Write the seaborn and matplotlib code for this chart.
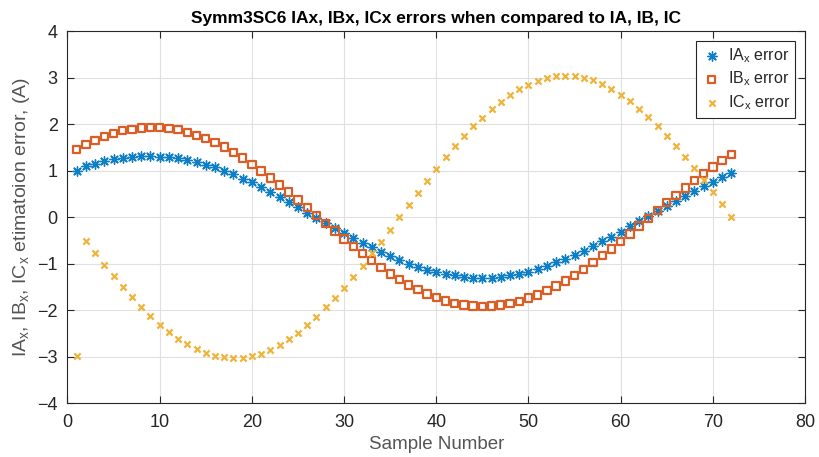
import numpy as np
import pandas as pd
import matplotlib
matplotlib.use("Agg")
import matplotlib.pyplot as plt
import seaborn as sns

# sample index
samples = list(range(1, 73))

# values
ia_err = [1.00, 1.09, 1.15, 1.20, 1.25, 1.28, 1.30, 1.31, 1.31, 1.30,
          1.29, 1.27, 1.23, 1.18, 1.13, 1.07, 1.00, 0.92, 0.83, 0.75,
          0.65, 0.54, 0.44, 0.33, 0.22, 0.10, -0.01, -0.12, -0.23, -0.34,
          -0.45, -0.55, -0.65, -0.75, -0.84, -0.93, -1.00, -1.07, -1.13, -1.18,
          -1.22, -1.25, -1.28, -1.30, -1.30, -1.30, -1.28, -1.25, -1.22, -1.17,
          -1.11, -1.05, -0.97, -0.89, -0.81, -0.72, -0.62, -0.52, -0.42, -0.32,
          -0.20, -0.09, 0.02, 0.13, 0.24, 0.35, 0.46, 0.56, 0.66, 0.76,
          0.86, 0.94]

ib_err = [1.45, 1.56, 1.65, 1.73, 1.80, 1.86, 1.89, 1.92, 1.93, 1.93,
          1.91, 1.88, 1.82, 1.76, 1.69, 1.60, 1.51, 1.39, 1.27, 1.13,
          0.99, 0.84, 0.69, 0.54, 0.37, 0.21, 0.04, -0.13, -0.30, -0.47,
          -0.63, -0.78, -0.93, -1.08, -1.22, -1.34, -1.46, -1.56, -1.65, -1.73,
          -1.80, -1.85, -1.89, -1.91, -1.92, -1.91, -1.89, -1.86, -1.81, -1.74,
          -1.67, -1.58, -1.48, -1.37, -1.25, -1.12, -0.98, -0.83, -0.68, -0.52,
          -0.36, -0.19, -0.03, 0.14, 0.31, 0.47, 0.63, 0.79, 0.94, 1.08,
          1.22, 1.35]

ic_err = [-2.98, -0.51, -0.77, -1.03, -1.27, -1.51, -1.72, -1.93, -2.12, -2.31,
          -2.47, -2.61, -2.73, -2.84, -2.92, -2.98, -3.01, -3.03, -3.02, -2.98,
          -2.93, -2.85, -2.74, -2.62, -2.48, -2.32, -2.14, -1.94, -1.74, -1.52,
          -1.28, -1.04, -0.78, -0.53, -0.27, 0.01, 0.27, 0.52, 0.78, 1.04,
          1.29, 1.52, 1.74, 1.95, 2.14, 2.32, 2.48, 2.62, 2.75, 2.85,
          2.93, 3.00, 3.03, 3.04, 3.03, 2.99, 2.94, 2.86, 2.76, 2.63,
          2.49, 2.33, 2.15, 1.96, 1.75, 1.53, 1.30, 1.05, 0.80, 0.54,
          0.28, 0.01]

df = pd.DataFrame({"sample": samples, "ia": ia_err, "ib": ib_err, "ic": ic_err})

sns.set_theme(style="whitegrid")
plt.rcParams["font.family"] = ["Liberation Sans", "DejaVu Sans"]
plt.rcParams["mathtext.fontset"] = "custom"
plt.rcParams["mathtext.rm"] = "Liberation Sans"
plt.rcParams["mathtext.it"] = "Liberation Sans"

txt = "#262626"
fig = plt.figure(figsize=(8.19, 4.57), dpi=100)
ax = fig.add_axes([0.0824, 0.1175, 0.9006, 0.8145])

sns.scatterplot(data=df, x="sample", y="ia", ax=ax, marker=(8, 2, 0), s=45,
                color="#0D7FC6", linewidth=1.0, label="IA$_{\\mathrm{x}}$ error", zorder=3)
sns.scatterplot(data=df, x="sample", y="ib", ax=ax, marker="s", s=28,
                facecolor="none", edgecolor="#DA5F26", linewidth=1.6,
                label="IB$_{\\mathrm{x}}$ error", zorder=3)
sns.scatterplot(data=df, x="sample", y="ic", ax=ax, marker="x", s=20,
                color="#EDB43A", linewidth=1.6, label="IC$_{\\mathrm{x}}$ error", zorder=3)

ax.set_xlim(0, 80)
ax.set_ylim(-4, 4)
ax.set_xticks(range(0, 81, 10))
ax.set_yticks(range(-4, 5))
ax.grid(True, color="#e0e0e0", linewidth=0.8)
ax.set_facecolor("white")
for sp in ax.spines.values():
    sp.set_visible(True)
    sp.set_color(txt)
    sp.set_linewidth(0.8)
ax.tick_params(direction="in", length=5, width=0.8, colors=txt, labelsize=13,
               top=True, right=True, bottom=True, left=True)
ax.tick_params(axis="x", pad=8)
ax.tick_params(axis="y", pad=7)

ax.set_title("Symm3SC6 IAx, IBx, ICx errors when compared to IA, IB, IC",
             fontsize=12.5, fontweight="bold", color="black", pad=6)
ax.set_xlabel("Sample Number", fontsize=13.5, color="#555555", labelpad=3)
ax.set_ylabel("IA$_{\\mathrm{x}}$, IB$_{\\mathrm{x}}$, IC$_{\\mathrm{x}}$ etimatoion error, (A)",
              fontsize=14, color="#555555", labelpad=4)

leg = ax.legend(loc="upper right", fontsize=11.5, frameon=True, fancybox=False,
                edgecolor=txt, framealpha=1, borderpad=0.35, handletextpad=0.4,
                labelspacing=0.3, handlelength=1.2, borderaxespad=0.6)
leg.get_frame().set_linewidth(0.8)

plt.savefig("out.png", dpi=100)
